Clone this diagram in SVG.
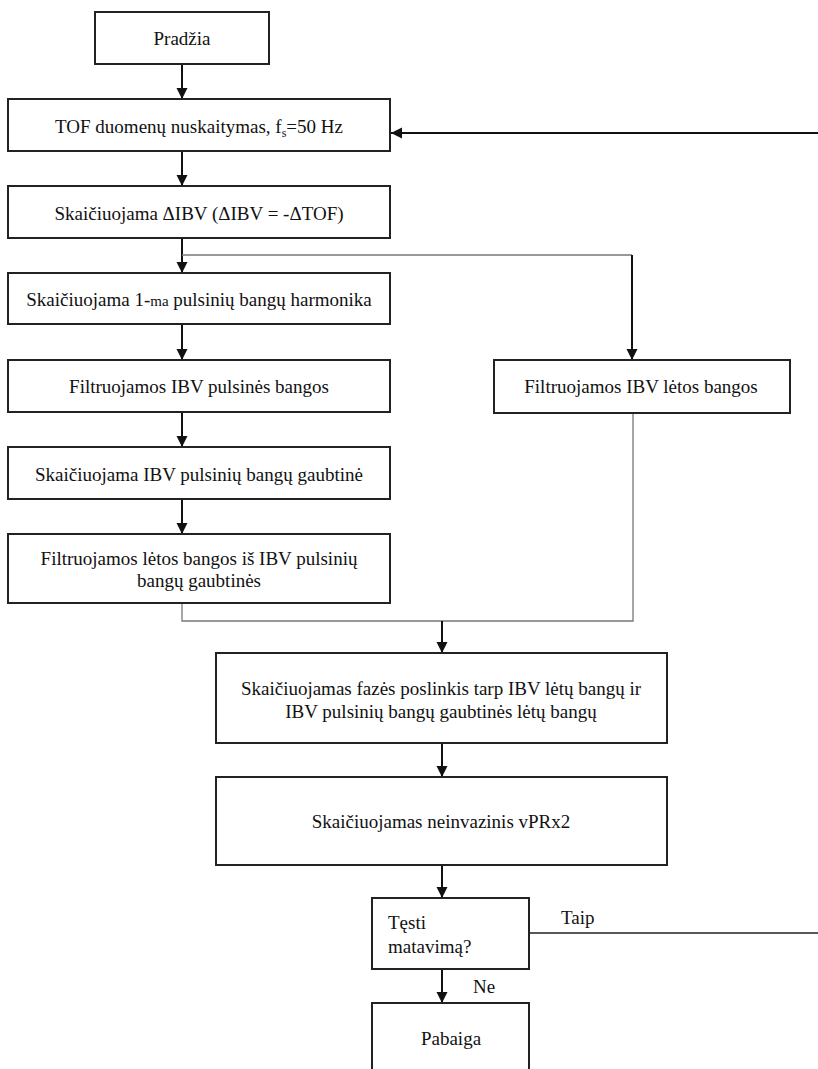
<svg xmlns="http://www.w3.org/2000/svg" width="818" height="1069" viewBox="0 0 818 1069">
<defs>
<marker id="ah" markerWidth="12" markerHeight="12" viewBox="0 0 12 12" refX="11" refY="6" orient="auto" markerUnits="userSpaceOnUse">
<path d="M0,0.5 L11,6 L0,11.5 Z" fill="#111"/>
</marker>
<style>
.box{fill:#fff;stroke:#222;stroke-width:2}
.t{font-family:'Liberation Serif','Times New Roman',serif;font-size:19px;fill:#111;text-anchor:middle}
.tl{font-family:'Liberation Serif','Times New Roman',serif;font-size:19px;fill:#111}
.arr{fill:none;stroke:#111;stroke-width:2}
.thin{fill:none;stroke:#777;stroke-width:1.3}
.lk{fill:none;stroke:#222;stroke-width:1.3}
</style>
</defs>
<rect width="818" height="1069" fill="#fff"/>
<g id="connectors">
<path class="arr" d="M182,64 V99" marker-end="url(#ah)"/>
<path class="arr" d="M182,151 V186" marker-end="url(#ah)"/>
<path class="arr" d="M182,238 V273" marker-end="url(#ah)"/>
<path class="thin" d="M182,255 H632"/>
<path class="arr" d="M632,255 V360" marker-end="url(#ah)"/>
<path class="arr" d="M182,324 V360" marker-end="url(#ah)"/>
<path class="arr" d="M182,412 V447" marker-end="url(#ah)"/>
<path class="arr" d="M182,499 V534" marker-end="url(#ah)"/>
<path class="thin" d="M182,603 V621 H633 V413"/>
<path class="arr" d="M442,621 V653" marker-end="url(#ah)"/>
<path class="arr" d="M442,743 V777" marker-end="url(#ah)"/>
<path class="arr" d="M442,865 V898" marker-end="url(#ah)"/>
<path class="arr" d="M442,969 V1003" marker-end="url(#ah)"/>
<path class="lk" d="M529,933 H820 V133"/>
<path class="arr" d="M820,133 H391" marker-end="url(#ah)"/>
<text class="tl" x="561" y="924">Taip</text>
<text class="tl" x="473" y="993">Ne</text>
</g>
<g id="start"><rect class="box" x="95" y="12" width="174" height="52"/><text class="t" x="182" y="45">Pradžia</text></g>
<g id="read"><rect class="box" x="8" y="99" width="382" height="52"/><text class="t" x="199" y="133">TOF duomenų nuskaitymas, f<tspan font-size="12" dy="4">s</tspan><tspan dy="-4">=50 Hz</tspan></text></g>
<g id="dibv"><rect class="box" x="8" y="186" width="382" height="52"/><text class="t" x="199" y="220">Skaičiuojama ΔIBV (ΔIBV = -ΔTOF)</text></g>
<g id="harm"><rect class="box" x="8" y="273" width="382" height="51"/><text class="t" x="199" y="306">Skaičiuojama 1-<tspan font-size="15">ma</tspan> pulsinių bangų harmonika</text></g>
<g id="pulse"><rect class="box" x="8" y="360" width="382" height="52"/><text class="t" x="199" y="393">Filtruojamos IBV pulsinės bangos</text></g>
<g id="env"><rect class="box" x="8" y="447" width="382" height="52"/><text class="t" x="199" y="481">Skaičiuojama IBV pulsinių bangų gaubtinė</text></g>
<g id="envslow"><rect class="box" x="8" y="534" width="382" height="69"/><text class="t" x="199" y="565">Filtruojamos lėtos bangos iš IBV pulsinių</text><text class="t" x="199" y="587">bangų gaubtinės</text></g>
<g id="slow"><rect class="box" x="494" y="360" width="296" height="53"/><text class="t" x="641" y="393">Filtruojamos IBV lėtos bangos</text></g>
<g id="phase"><rect class="box" x="216" y="653" width="451" height="90"/><text class="t" x="441" y="695">Skaičiuojamas fazės poslinkis tarp IBV lėtų bangų ir</text><text class="t" x="441" y="718">IBV pulsinių bangų gaubtinės lėtų bangų</text></g>
<g id="vprx"><rect class="box" x="216" y="777" width="451" height="88"/><text class="t" x="441" y="828">Skaičiuojamas neinvazinis vPRx2</text></g>
<g id="decision"><rect class="box" x="372" y="898" width="157" height="71"/><text class="tl" x="388" y="929">Tęsti</text><text class="tl" x="388" y="953">matavimą?</text></g>
<g id="end"><rect class="box" x="372" y="1003" width="157" height="80"/><text class="t" x="451" y="1045">Pabaiga</text></g>
</svg>
